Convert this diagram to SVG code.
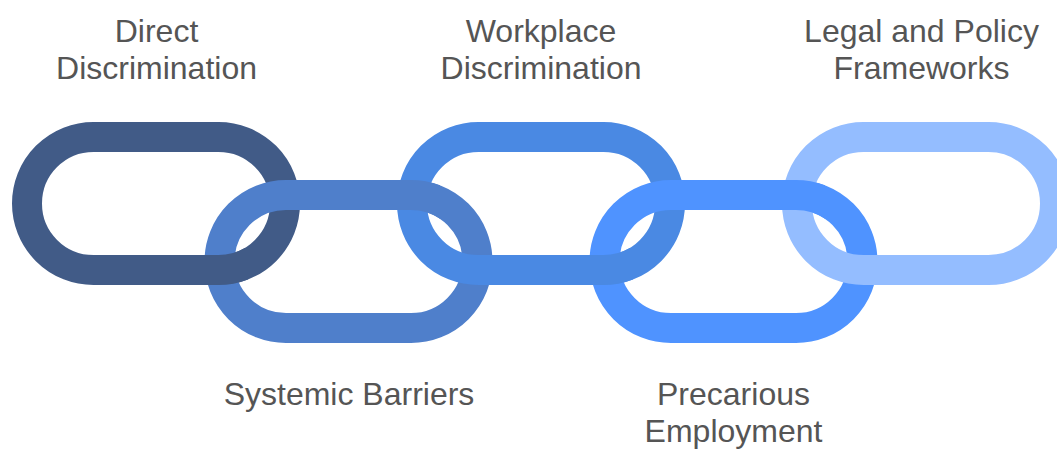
<svg xmlns="http://www.w3.org/2000/svg" xmlns:xlink="http://www.w3.org/1999/xlink" width="1057" height="450" viewBox="0 0 1057 450">
  <style>
    .link { fill: none; stroke-width: 30; }
    .l1 { stroke: #415B87; }
    .l2 { stroke: #4F7FCB; }
    .l3 { stroke: #4A89E3; }
    .l4 { stroke: #4F93FF; }
    .l5 { stroke: #94BDFF; }
    .label { font-family: "Liberation Sans", Arial, sans-serif; font-size: 32px; fill: #555555; text-anchor: middle; }
  </style>
  <defs>
    <rect id="r1" class="link l1" x="27" y="137" width="258" height="133" rx="66.5" ry="66.5"/>
    <rect id="r2" class="link l2" x="219.5" y="195" width="258" height="133" rx="66.5" ry="66.5"/>
    <rect id="r3" class="link l3" x="412" y="137" width="258" height="133" rx="66.5" ry="66.5"/>
    <rect id="r4" class="link l4" x="604.5" y="195" width="258" height="133" rx="66.5" ry="66.5"/>
    <rect id="r5" class="link l5" x="797" y="137" width="258" height="133" rx="66.5" ry="66.5"/>
    <clipPath id="c12"><rect x="196" y="248" width="52" height="46"/></clipPath>
    <clipPath id="c23"><rect x="388" y="168" width="52" height="54"/></clipPath>
    <clipPath id="c34"><rect x="581" y="248" width="52" height="46"/></clipPath>
    <clipPath id="c45"><rect x="773" y="168" width="52" height="54"/></clipPath>
  </defs>

  <g id="node-direct-discrimination">
    <use xlink:href="#r1"/>
    <text class="label" x="156.5" y="42">Direct</text>
    <text class="label" x="156.5" y="79">Discrimination</text>
  </g>
  <g id="node-systemic-barriers">
    <use xlink:href="#r2"/>
    <text class="label" x="349" y="405">Systemic Barriers</text>
  </g>
  <g id="node-workplace-discrimination">
    <use xlink:href="#r3"/>
    <text class="label" x="541" y="42">Workplace</text>
    <text class="label" x="541" y="79">Discrimination</text>
  </g>
  <g id="node-precarious-employment">
    <use xlink:href="#r4"/>
    <text class="label" x="733.5" y="405">Precarious</text>
    <text class="label" x="733.5" y="442">Employment</text>
  </g>
  <g id="node-legal-policy-frameworks">
    <use xlink:href="#r5"/>
    <text class="label" x="921.5" y="42">Legal and Policy</text>
    <text class="label" x="921.5" y="79">Frameworks</text>
  </g>

  <g id="connectors">
    <use xlink:href="#r1" clip-path="url(#c12)"/>
    <use xlink:href="#r2" clip-path="url(#c23)"/>
    <use xlink:href="#r3" clip-path="url(#c34)"/>
    <use xlink:href="#r4" clip-path="url(#c45)"/>
  </g>
</svg>
